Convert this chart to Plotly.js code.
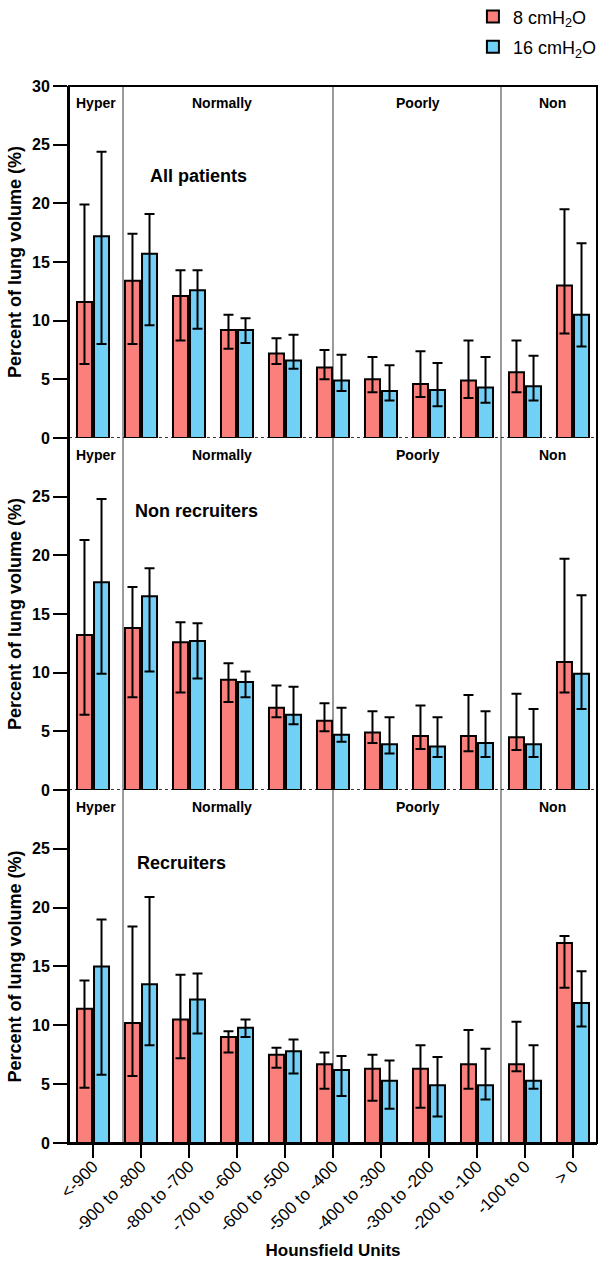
<!DOCTYPE html>
<html>
<head>
<meta charset="utf-8">
<script src="https://cdn.plot.ly/plotly-3.0.1.min.js"></script>
<style>
html,body{margin:0;padding:0;background:#fff;}
#chart{width:602px;height:1269px;}
</style>
</head>
<body>
<div id="chart"></div>
<script>
// ---- Data ----
const categories = ['<-900','-900 to -800','-800 to -700','-700 to -600','-600 to -500','-500 to -400','-400 to -300','-300 to -200','-200 to -100','-100 to 0','> 0'];
const seriesNames = ['8 cmH<sub>2</sub>O', '16 cmH<sub>2</sub>O'];
const panelTitles = ['All patients', 'Non recruiters', 'Recruiters'];
const regionLabels = ['Hyper', 'Normally', 'Poorly', 'Non'];

// All patients
const allMean8   = [11.6, 13.4, 12.1, 9.2, 7.2, 6.0, 5.0, 4.6, 4.9, 5.6, 13.0];
const allHigh8   = [19.9, 17.4, 14.3, 10.5, 8.5, 7.5, 6.9, 7.4, 8.3, 8.3, 19.5];
const allLow8    = [6.3, 8.0, 8.3, 7.6, 6.3, 5.0, 3.9, 3.5, 3.4, 3.9, 8.9];
const allMean16  = [17.2, 15.7, 12.6, 9.2, 6.6, 4.9, 4.0, 4.1, 4.3, 4.4, 10.5];
const allHigh16  = [24.4, 19.1, 14.3, 10.2, 8.8, 7.1, 6.2, 6.4, 6.9, 7.0, 16.6];
const allLow16   = [8.0, 9.6, 9.3, 8.1, 5.9, 4.0, 3.2, 2.7, 3.0, 3.2, 7.8];

// Non recruiters
const nonMean8   = [13.2, 13.8, 12.6, 9.4, 7.0, 5.9, 4.9, 4.6, 4.6, 4.5, 10.9];
const nonHigh8   = [21.3, 17.3, 14.3, 10.8, 8.9, 7.4, 6.7, 7.2, 8.1, 8.2, 19.7];
const nonLow8    = [6.4, 7.9, 8.3, 7.5, 6.2, 5.0, 4.0, 3.5, 3.3, 3.4, 8.3];
const nonMean16  = [17.7, 16.5, 12.7, 9.2, 6.4, 4.7, 3.9, 3.7, 4.0, 3.9, 9.9];
const nonHigh16  = [24.8, 18.9, 14.2, 10.1, 8.8, 7.0, 6.2, 6.2, 6.7, 6.9, 16.6];
const nonLow16   = [9.9, 10.1, 9.5, 7.9, 5.6, 4.1, 3.1, 2.8, 2.8, 2.8, 6.9];

// Recruiters
const recMean8   = [11.4, 10.2, 10.5, 9.0, 7.5, 6.7, 6.3, 6.3, 6.7, 6.7, 17.0];
const recHigh8   = [13.8, 18.4, 14.3, 9.5, 8.1, 7.7, 7.5, 8.3, 9.6, 10.3, 17.6];
const recLow8    = [4.7, 5.7, 7.2, 7.7, 6.4, 4.6, 3.6, 3.0, 4.6, 6.1, 13.2];
const recMean16  = [15.0, 13.5, 12.2, 9.8, 7.8, 6.2, 5.3, 4.9, 4.9, 5.3, 11.9];
const recHigh16  = [19.0, 20.9, 14.4, 10.5, 8.8, 7.4, 7.0, 7.3, 8.0, 8.3, 14.6];
const recLow16   = [5.8, 8.3, 9.3, 9.0, 5.9, 4.0, 2.9, 2.25, 3.7, 4.6, 9.9];

// ---- Build ----
const FONT = 'Liberation Sans, Arial, Helvetica, sans-serif';
const colors = ['#F9807B', '#72D0F7'];
const panels = [
  {ax: 'y',  m: [allMean8, allMean16], h: [allHigh8, allHigh16], l: [allLow8, allLow16]},
  {ax: 'y2', m: [nonMean8, nonMean16], h: [nonHigh8, nonHigh16], l: [nonLow8, nonLow16]},
  {ax: 'y3', m: [recMean8, recMean16], h: [recHigh8, recHigh16], l: [recLow8, recLow16]}
];

const traces = [];
panels.forEach((p, pi) => {
  for (let s = 0; s < 2; s++) {
    traces.push({
      type: 'bar',
      x: categories,
      y: p.m[s],
      name: seriesNames[s],
      legendgroup: 'g' + s,
      showlegend: pi === 0,
      xaxis: 'x',
      yaxis: p.ax,
      marker: {color: colors[s], line: {color: '#000', width: 2}},
      error_y: {
        type: 'data', symmetric: false,
        array: p.h[s].map((v, i) => v - p.m[s][i]),
        arrayminus: p.m[s].map((v, i) => v - p.l[s][i]),
        color: '#000', thickness: 2, width: 5
      },
      hoverinfo: 'skip'
    });
  }
});

const yBase = {
  range: [0, 30],
  automargin: false,
  showline: true, linecolor: '#000', linewidth: 2,
  ticks: 'outside', ticklen: 14, tickwidth: 2, tickcolor: '#000',
  tickfont: {family: FONT, size: 16, color: '#000', weight: 'bold'},
  showgrid: false, zeroline: false,
  title: {text: 'Percent of lung volume (%)', font: {family: FONT, size: 18, color: '#000', weight: 'bold'}, standoff: 6},
  anchor: 'x'
};

const layout = {
  width: 602, height: 1269,
  margin: {l: 69, r: 5, t: 86, b: 126, autoexpand: false},
  paper_bgcolor: '#fff', plot_bgcolor: '#fff',
  barmode: 'group', bargap: 0.29, bargroupgap: 0.12,
  font: {family: FONT, color: '#000'},
  showlegend: true,
  legend: {
    x: 0.765, y: 1.083, xanchor: 'left', yanchor: 'top',
    font: {family: FONT, size: 18, color: '#000'},
    traceorder: 'grouped', tracegroupgap: 4, bgcolor: 'rgba(0,0,0,0)'
  },
  xaxis: {
    type: 'category', categoryorder: 'array', categoryarray: categories,
    anchor: 'y3', automargin: false,
    showline: true, linecolor: '#000', linewidth: 2,
    ticks: 'outside', ticklen: 13, tickwidth: 2, tickcolor: '#000',
    tickangle: -45, ticklabelstandoff: -8,
    tickfont: {family: FONT, size: 17, color: '#000'},
    title: {text: 'Hounsfield Units', font: {family: FONT, size: 17, color: '#000', weight: 'bold'}, standoff: 10},
    showgrid: false, zeroline: false
  },
  yaxis:  Object.assign({}, yBase, {domain: [0.667, 1], tickvals: [0, 5, 10, 15, 20, 25, 30]}),
  yaxis2: Object.assign({}, yBase, {domain: [0.334, 0.667], tickvals: [0, 5, 10, 15, 20, 25]}),
  yaxis3: Object.assign({}, yBase, {domain: [0, 0.334], tickvals: [0, 5, 10, 15, 20, 25]}),
  shapes: [],
  annotations: []
};

// region dividers (gray)
[0.625, 5, 8.5].forEach(xv => {
  layout.shapes.push({type: 'line', xref: 'x', yref: 'paper', x0: xv, x1: xv, y0: 0, y1: 1,
    line: {color: '#9a9a9a', width: 2}, layer: 'below'});
});
// frame
layout.shapes.push({type: 'rect', xref: 'paper', yref: 'paper', x0: 0, x1: 1, y0: 0, y1: 1,
  line: {color: '#000', width: 2}, fillcolor: 'rgba(0,0,0,0)'});
// dotted baselines for upper panels
['y', 'y2'].forEach(ax => {
  layout.shapes.push({type: 'line', xref: 'paper', yref: ax, x0: 0, x1: 1, y0: 0, y1: 0,
    line: {color: '#000', width: 1.5, dash: 'dot'}});
});

// region labels and panel titles
const regionX = [0.06, 2.69, 6.77, 9.58];
const titleX = [0.15, 0.121, 0.125];
const titleY = [22.3, 23.8, 23.8];
['y', 'y2', 'y3'].forEach((ax, pi) => {
  regionLabels.forEach((t, i) => {
    layout.annotations.push({text: t, xref: 'x', yref: ax, x: regionX[i], y: 28.55,
      showarrow: false, xanchor: 'center', yanchor: 'middle',
      font: {family: FONT, size: 14, color: '#000', weight: 'bold'}});
  });
  layout.annotations.push({text: panelTitles[pi], xref: 'paper', yref: ax, x: titleX[pi], y: titleY[pi],
    showarrow: false, xanchor: 'left', yanchor: 'middle',
    font: {family: FONT, size: 18, color: '#000', weight: 'bold'}});
});

Plotly.newPlot('chart', traces, layout, {displayModeBar: false, staticPlot: true});
</script>
</body>
</html>
